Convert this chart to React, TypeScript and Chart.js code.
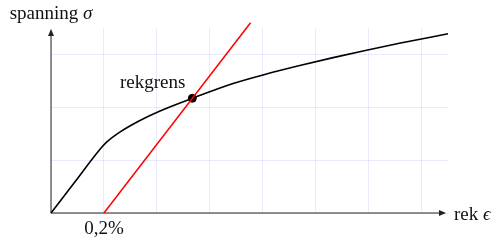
import React, { useEffect, useRef } from "react";
import { Chart, registerables } from "chart.js";

Chart.register(...registerables);

// Stress–strain curve (grid units)
const strainValues = [0, 0.45, 0.93, 1.05, 1.3, 1.68, 2.06, 2.67, 3.44, 4.07, 4.7, 5.33, 5.96, 6.58, 7.5];
const stressValues = [0, 0.585, 1.21, 1.34, 1.53, 1.75, 1.93, 2.17, 2.45, 2.63, 2.79, 2.94, 3.08, 3.21, 3.39];

// 0,2% offset line
const offsetStrain = [1, 3.77];
const offsetStress = [0, 3.6];

// Yield point
const yieldStrain = [2.67];
const yieldStress = [2.17];

const xLabelText = "rek ";
const xLabelSymbol = "ϵ";
const yLabelText = "spanning ";
const yLabelSymbol = "σ";
const offsetLabel = "0,2%";
const yieldLabel = "rekgrens";

const X_MAX = 7.5;
const Y_MAX = 3.5;

const toPoints = (xs: number[], ys: number[]) => xs.map((x, i) => ({ x, y: ys[i] }));

const FONT = "'Liberation Serif', 'DejaVu Serif', serif";

function drawMixed(ctx: CanvasRenderingContext2D, text: string, sym: string, x: number, y: number, align: "left" | "center") {
  ctx.font = `19px ${FONT}`;
  const w1 = ctx.measureText(text).width;
  ctx.font = `italic 19px ${FONT}`;
  const w2 = ctx.measureText(sym).width;
  const total = w1 + w2;
  const start = align === "center" ? x - total / 2 : x;
  ctx.textAlign = "left";
  ctx.font = `19px ${FONT}`;
  ctx.fillText(text, start, y);
  ctx.font = `italic 19px ${FONT}`;
  ctx.fillText(sym, start + w1, y);
}

const decorPlugin = {
  id: "decor",
  beforeDatasetsDraw(chart: any) {
    const { ctx, chartArea, scales } = chart;
    const x0 = scales.x.getPixelForValue(0);
    const y0 = scales.y.getPixelForValue(0);
    ctx.save();
    ctx.strokeStyle = "#222";
    ctx.fillStyle = "#222";
    ctx.lineWidth = 1;
    const xEnd = chartArea.right - 2;
    ctx.beginPath();
    ctx.moveTo(x0, y0);
    ctx.lineTo(xEnd - 5, y0);
    ctx.stroke();
    ctx.beginPath();
    ctx.moveTo(xEnd, y0);
    ctx.lineTo(xEnd - 7, y0 - 3);
    ctx.lineTo(xEnd - 7, y0 + 3);
    ctx.closePath();
    ctx.fill();
    const yEnd = chartArea.top + 1;
    ctx.beginPath();
    ctx.moveTo(x0, y0);
    ctx.lineTo(x0, yEnd + 5);
    ctx.stroke();
    ctx.beginPath();
    ctx.moveTo(x0, yEnd);
    ctx.lineTo(x0 - 3, yEnd + 7);
    ctx.lineTo(x0 + 3, yEnd + 7);
    ctx.closePath();
    ctx.fill();
    ctx.restore();
  },
  afterDatasetsDraw(chart: any) {
    const { ctx, chartArea, scales } = chart;
    const x0 = scales.x.getPixelForValue(0);
    const y0 = scales.y.getPixelForValue(0);
    ctx.save();
    ctx.fillStyle = "#111";
    ctx.textBaseline = "alphabetic";
    drawMixed(ctx, yLabelText, yLabelSymbol, x0, 19, "center");
    drawMixed(ctx, xLabelText, xLabelSymbol, chartArea.right + 6, y0 + 7, "left");
    ctx.font = `19px ${FONT}`;
    ctx.textAlign = "center";
    ctx.fillText(offsetLabel, scales.x.getPixelForValue(offsetStrain[0]), y0 + 21);
    ctx.textAlign = "right";
    ctx.fillText(
      yieldLabel,
      scales.x.getPixelForValue(yieldStrain[0]) - 7,
      scales.y.getPixelForValue(yieldStress[0]) - 10
    );
    ctx.restore();
  },
};

export default function App() {
  const canvasRef = useRef<HTMLCanvasElement | null>(null);

  useEffect(() => {
    document.body.style.margin = "0";
    const canvas = canvasRef.current;
    if (!canvas) return;
    const chart = new Chart(canvas, {
      type: "scatter",
      data: {
        datasets: [
          {
            data: toPoints(offsetStrain, offsetStress),
            showLine: true,
            borderColor: "#ff0000",
            borderWidth: 1.5,
            pointRadius: 0,
            clip: false as any,
          },
          {
            data: toPoints(strainValues, stressValues),
            showLine: true,
            borderColor: "#000",
            borderWidth: 1.6,
            pointRadius: 0,
            cubicInterpolationMode: "monotone",
            clip: false as any,
          },
          {
            data: toPoints(yieldStrain, yieldStress),
            showLine: false,
            backgroundColor: "#000",
            borderColor: "#000",
            pointRadius: 4,
            clip: false as any,
          },
        ],
      },
      options: {
        animation: false,
        responsive: false,
        maintainAspectRatio: false,
        layout: { padding: { left: 51, right: 52, top: 28, bottom: 30 } },
        plugins: { legend: { display: false }, tooltip: { enabled: false } },
        scales: {
          x: {
            type: "linear",
            min: 0,
            max: X_MAX,
            ticks: { display: false, stepSize: 1, includeBounds: false },
            grid: { color: "rgba(80,80,255,0.12)", lineWidth: 1, drawTicks: false },
            border: { display: false },
          },
          y: {
            type: "linear",
            min: 0,
            max: Y_MAX,
            ticks: { display: false, stepSize: 1, includeBounds: false },
            grid: { color: "rgba(80,80,255,0.12)", lineWidth: 1, drawTicks: false },
            border: { display: false },
          },
        },
      },
      plugins: [decorPlugin],
    });
    return () => chart.destroy();
  }, []);

  return (
    <div style={{ width: 500, height: 243 }}>
      <canvas ref={canvasRef} width={500} height={243} />
    </div>
  );
}
